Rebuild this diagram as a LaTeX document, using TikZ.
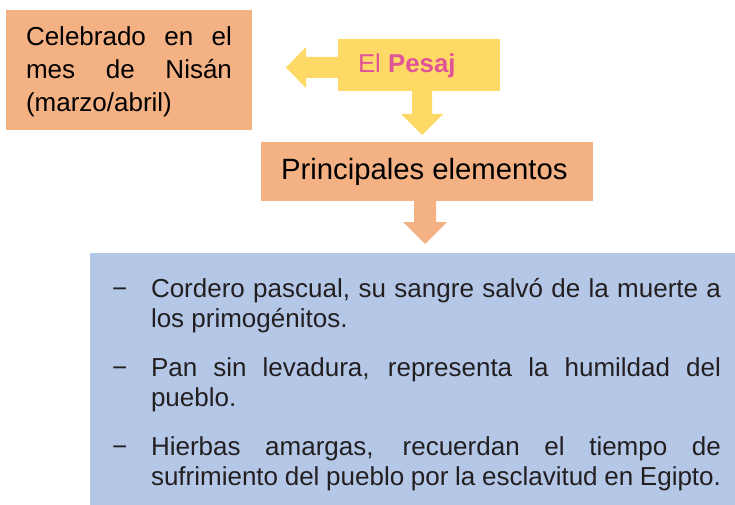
\documentclass[tikz,border=0pt]{standalone}
\usepackage{fontspec}
\setmainfont{Liberation Sans}
\definecolor{orangebox}{RGB}{244,177,131}
\definecolor{yellowbox}{RGB}{255,217,102}
\definecolor{bluebox}{RGB}{180,199,231}
\definecolor{pinktext}{RGB}{224,84,152}
\definecolor{darktext}{RGB}{35,31,32}
\tikzset{
  boxshape/.style={inner sep=0pt, outer sep=0pt},
  txt/.style={inner sep=0pt, outer sep=0pt, anchor=base west},
  blockarrow/.style={draw=none}
}
\begin{document}
\begin{tikzpicture}[x=1pt,y=-1pt]
\useasboundingbox (0,0) rectangle (735,505);
% boxes
\node[boxshape, fill=orangebox, minimum width=246pt, minimum height=120pt] (month) at (129,70) {};
\node[boxshape, fill=yellowbox, minimum width=162pt, minimum height=52pt] (pesaj) at (419,65) {};
\node[boxshape, fill=orangebox, minimum width=332pt, minimum height=59pt] (elem) at (427,171.5) {};
\node[boxshape, fill=bluebox, minimum width=645pt, minimum height=252pt] (list) at (412.5,379) {};
% block arrows
\fill[yellowbox, blockarrow] (pesaj.west |- 0,57) -- (306,57) -- (306,47) -- (286,67.5) -- (306,88) -- (306,78) -- (pesaj.west |- 0,78) -- cycle;
\fill[yellowbox, blockarrow] (412,0 |- pesaj.south) -- (412,114) -- (401,114) -- (422,135) -- (443,114) -- (432,114) -- (432,0 |- pesaj.south) -- cycle;
\fill[orangebox, blockarrow] (414,0 |- elem.south) -- (414,222) -- (403,222) -- (425,244) -- (447,222) -- (436,222) -- (436,0 |- elem.south) -- cycle;
% texts
\node[txt] (monthtext) at (26,46) {\parbox[t]{206pt}{\fontsize{26}{33}\selectfont
  \makebox[206pt][s]{Celebrado en el}\\
  \makebox[206pt][s]{mes de Nisán}\\
  (marzo/abril)}};
\node[txt, text=pinktext] (pesajtext) at (358,73) {\fontsize{25.8}{30}\selectfont El \textbf{Pesaj}};
\node[txt] (elemtext) at (281,179) {\fontsize{29.3}{34}\selectfont Principales elementos};
% bullets
\node[txt, text=darktext] (dash1) at (112,297) {\fontsize{26}{30}\selectfont −};
\node[txt, text=darktext] (dash2) at (112,376) {\fontsize{26}{30}\selectfont −};
\node[txt, text=darktext] (dash3) at (112,455) {\fontsize{26}{30}\selectfont −};
\node[txt, text=darktext] (item1) at (151,297) {\parbox[t]{570pt}{\fontsize{26}{30}\selectfont
  \makebox[570pt][s]{Cordero pascual, su sangre salvó de la muerte a}\\
  los primogénitos.}};
\node[txt, text=darktext] (item2) at (151,376) {\parbox[t]{570pt}{\fontsize{26}{30}\selectfont
  \makebox[570pt][s]{Pan sin levadura, representa la humildad del}\\
  pueblo.}};
\node[txt, text=darktext] (item3) at (151,455) {\parbox[t]{570pt}{\fontsize{26}{30}\selectfont
  \makebox[570pt][s]{Hierbas amargas, recuerdan el tiempo de}\\
  sufrimiento del pueblo por la esclavitud en Egipto.}};
\end{tikzpicture}
\end{document}
